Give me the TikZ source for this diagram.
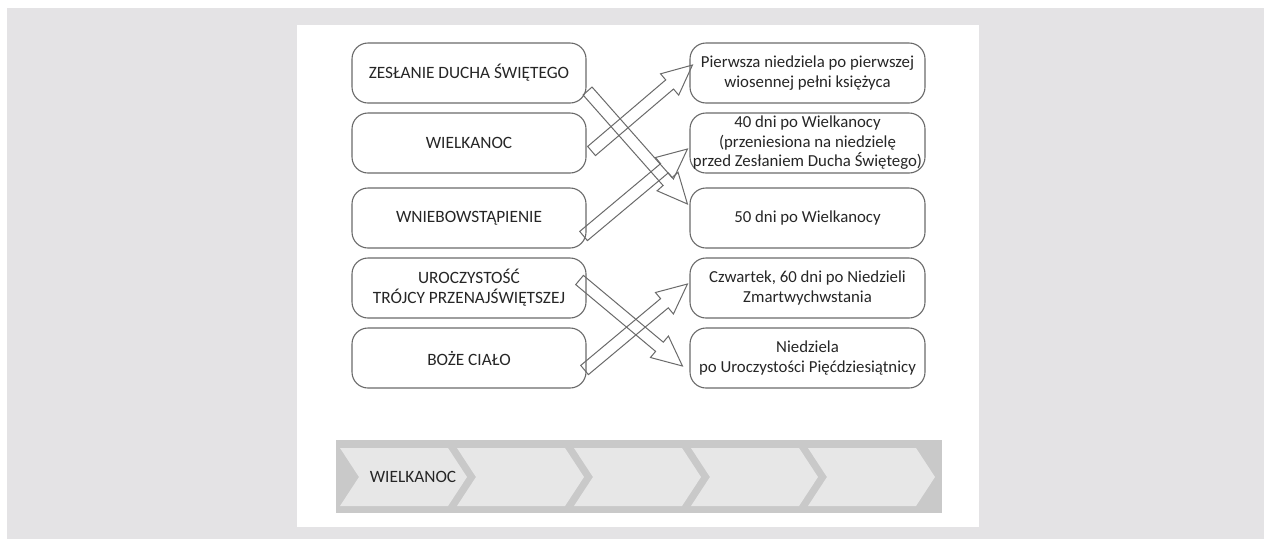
\documentclass[tikz,border=0pt]{standalone}
\usepackage{fontspec}
\setmainfont{Carlito}
\usetikzlibrary{calc}
\definecolor{bggray}{HTML}{E4E3E5}
\definecolor{stripgray}{HTML}{C9C9C9}
\definecolor{chevgray}{HTML}{E7E7E7}
\definecolor{linegray}{HTML}{6A6A6A}
\definecolor{txt}{HTML}{262626}
\tikzset{
  box/.style={draw=linegray, line width=1.1pt, rounded corners=16pt, fill=white,
    minimum width=234pt, minimum height=60pt, align=center, text=txt,
    font=\fontsize{17.3}{20}\selectfont, inner sep=0pt},
  rbox/.style={box, minimum width=235pt, font=\fontsize{16.8}{19.6}\selectfont},
  barrowline/.style={draw=linegray, line width=1pt, line join=miter},
  chevron/.style={fill=chevgray},
  chevtext/.style={text=txt, font=\fontsize{17.3}{20}\selectfont, inner sep=0pt},
}
\newcommand\blockarrow[2]{%
  \path let \p1=(#1), \p2=(#2), \n1={atan2(\y2-\y1,\x2-\x1)}, \n2={veclen(\x2-\x1,\y2-\y1)} in
    \pgfextra{\xdef\baang{\n1}\xdef\balen{\n2}\xdef\bax{\x1}\xdef\bay{\y1}};
  \draw[barrowline, shift={(\bax,\bay)}, rotate=\baang]
    (0pt,-6pt) -- (\balen-30pt,-6pt) -- (\balen-30pt,-14pt) -- (\balen,0pt)
    -- (\balen-30pt,14pt) -- (\balen-30pt,6pt) -- (0pt,6pt) -- cycle;
}
\begin{document}
\begin{tikzpicture}[x=1pt,y=-1pt]
\useasboundingbox (0,0) rectangle (1264,539);
\fill[white] (0,0) rectangle (1264,539);
\fill[bggray] (7,8) rectangle (1264,539);
\fill[white] (297,25) rectangle (979,527);

% left boxes
\node[box] (l1) at (469,73)  {ZESŁANIE DUCHA ŚWIĘTEGO};
\node[box] (l2) at (469,143) {WIELKANOC};
\node[box] (l3) at (469,218) {WNIEBOWSTĄPIENIE};
\node[box] (l4) at (469,288) {UROCZYSTOŚĆ\\TRÓJCY PRZENAJŚWIĘTSZEJ};
\node[box] (l5) at (469,358) {BOŻE CIAŁO};

% right boxes
\node[rbox] (r1) at (807.5,73)  {Pierwsza niedziela po pierwszej\\wiosennej pełni księżyca};
\node[rbox] (r2) at (807.5,143) {40 dni po Wielkanocy\\(przeniesiona na niedzielę\\przed Zesłaniem Ducha Świętego)};
\node[rbox] (r3) at (807.5,218) {50 dni po Wielkanocy};
\node[rbox] (r4) at (807.5,288) {Czwartek, 60 dni po Niedzieli\\Zmartwychwstania};
\node[rbox] (r5) at (807.5,358) {Niedziela\\po Uroczystości Pięćdziesiątnicy};

% arrow end points
\coordinate (a1s) at ($(l2.east)+(5,8)$);
\coordinate (a1e) at ($(r1.west)+(3,-8)$);
\coordinate (a2s) at ($(l3.east)+(-3,18)$);
\coordinate (a2e) at ($(r2.west)+(-2,6)$);
\coordinate (a3s) at ($(l1.east)+(1,18)$);
\coordinate (a3e) at ($(r3.west)+(-2,-14)$);
\coordinate (a4s) at ($(l4.east)+(-7,-8)$);
\coordinate (a4e) at ($(r5.west)+(-7,8)$);
\coordinate (a5s) at ($(l5.east)+(-2,12)$);
\coordinate (a5e) at ($(r4.west)+(-2,-4)$);

\blockarrow{a1s}{a1e}
\blockarrow{a2s}{a2e}
\blockarrow{a3s}{a3e}
\blockarrow{a4s}{a4e}
\blockarrow{a5s}{a5e}

% bottom chevron strip
\fill[stripgray] (336,440) rectangle (942,513);
\foreach \i in {0,...,4}{
  \pgfmathsetmacro\xo{340+117*\i}
  \fill[chevron] (\xo,448) -- ++(108,0) -- ++(19,29) -- ++(-19,29) -- ++(-108,0) -- ++(19,-29) -- cycle;
}
\node[chevtext] (ch1) at (413,477) {WIELKANOC};
\end{tikzpicture}
\end{document}
